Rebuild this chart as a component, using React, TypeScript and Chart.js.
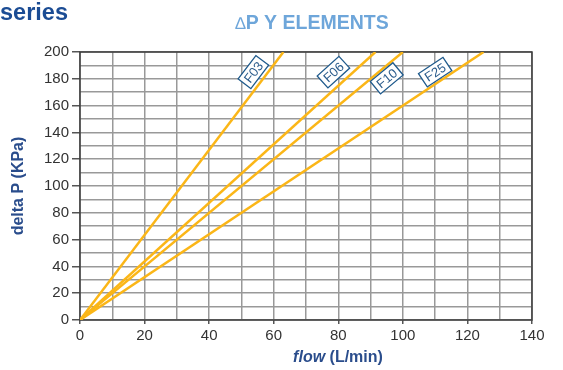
import { useEffect, useRef } from 'react';
import { Chart, registerables } from 'chart.js';

Chart.register(...registerables);

// ---- data ----
const seriesNames = ['F03', 'F06', 'F10', 'F25'];
const flowF03 = [0, 63];
const dpF03 = [0, 200];
const flowF06 = [0, 91.5];
const dpF06 = [0, 200];
const flowF10 = [0, 100];
const dpF10 = [0, 200];
const flowF25 = [0, 125];
const dpF25 = [0, 200];
// label anchors (data units)
const labelFlow = [53.7, 78.5, 95, 110];
const labelDp = [185, 185, 180.4, 185];

const xTickLabels = ['0', '20', '40', '60', '80', '100', '120', '140'];
const yTickLabels = ['0', '20', '40', '60', '80', '100', '120', '140', '160', '180', '200'];

const FONT = '"Liberation Sans", Arial, Helvetica, sans-serif';
const LINE_COLOR = '#fbb617';

const toPts = (xs: number[], ys: number[]) => xs.map((x, i) => ({ x, y: ys[i] }));

const overlayPlugin = {
  id: 'overlay',
  beforeDatasetsDraw(chart: any) {
    const { ctx, chartArea } = chart;
    ctx.save();
    ctx.strokeStyle = '#3c3c3c';
    ctx.lineWidth = 1.5;
    ctx.strokeRect(chartArea.left, chartArea.top, chartArea.right - chartArea.left, chartArea.bottom - chartArea.top);
    ctx.restore();
  },
  afterDatasetsDraw(chart: any) {
    const { ctx } = chart;
    const xs = chart.scales.x;
    const ys = chart.scales.y;
    ctx.save();
    chart.data.datasets.forEach((ds: any, i: number) => {
      const p0 = ds.data[0];
      const p1 = ds.data[ds.data.length - 1];
      const dx = xs.getPixelForValue(p1.x) - xs.getPixelForValue(p0.x);
      const dy = ys.getPixelForValue(p1.y) - ys.getPixelForValue(p0.y);
      const ang = Math.atan2(dy, dx);
      const cx = xs.getPixelForValue(labelFlow[i]);
      const cy = ys.getPixelForValue(labelDp[i]);
      ctx.save();
      ctx.translate(cx, cy);
      ctx.rotate(ang);
      ctx.font = `13px ${FONT}`;
      const w = ctx.measureText(seriesNames[i]).width + 7;
      const h = 16;
      ctx.fillStyle = '#ffffff';
      ctx.fillRect(-w / 2, -h / 2, w, h);
      ctx.strokeStyle = '#1f5a8c';
      ctx.lineWidth = 1.3;
      ctx.strokeRect(-w / 2, -h / 2, w, h);
      ctx.fillStyle = '#2b5c8c';
      ctx.textAlign = 'center';
      ctx.textBaseline = 'middle';
      ctx.fillText(seriesNames[i], 0, 1);
      ctx.restore();
    });
    ctx.restore();
  },
  afterDraw(chart: any) {
    const { ctx, chartArea } = chart;
    ctx.save();
    // top-left title
    ctx.fillStyle = '#1b4c94';
    ctx.font = `bold 23.5px ${FONT}`;
    ctx.textAlign = 'left';
    ctx.textBaseline = 'alphabetic';
    ctx.fillText('series', 0, 20);
    // chart title
    ctx.fillStyle = '#6ea6da';
    const delta = '\u2206';
    const rest = 'P Y ELEMENTS';
    ctx.font = `17px ${FONT}`;
    const wd = ctx.measureText(delta).width;
    ctx.font = `bold 19.5px ${FONT}`;
    const wr = ctx.measureText(rest).width;
    const cxT = 312;
    const sx = cxT - (wd + wr) / 2;
    ctx.font = `17px ${FONT}`;
    ctx.fillText(delta, sx, 29);
    ctx.font = `bold 19.5px ${FONT}`;
    ctx.fillText(rest, sx + wd, 29);
    // y title
    ctx.fillStyle = '#2a4d8c';
    ctx.font = `bold 16px ${FONT}`;
    ctx.save();
    ctx.translate(23, (chartArea.top + chartArea.bottom) / 2);
    ctx.rotate(-Math.PI / 2);
    ctx.textAlign = 'center';
    ctx.fillText('delta P (KPa)', 0, 0);
    ctx.restore();
    // x title
    const a = 'flow';
    const b = ' (L/min)';
    ctx.font = `italic bold 16px ${FONT}`;
    const wa = ctx.measureText(a).width;
    ctx.font = `bold 16px ${FONT}`;
    const wb = ctx.measureText(b).width;
    const x0 = 338 - (wa + wb) / 2;
    ctx.textAlign = 'left';
    ctx.font = `italic bold 16px ${FONT}`;
    ctx.fillText(a, x0, 362);
    ctx.font = `bold 16px ${FONT}`;
    ctx.fillText(b, x0 + wa, 362);
    ctx.restore();
  },
};

export default function App() {
  const ref = useRef<HTMLCanvasElement | null>(null);
  useEffect(() => {
    if (!ref.current) return;
    const mk = (label: string, xs: number[], ys: number[]) => ({
      label,
      data: toPts(xs, ys),
      showLine: true,
      borderColor: LINE_COLOR,
      backgroundColor: LINE_COLOR,
      borderWidth: 2.5,
      pointRadius: 0,
      fill: false,
    });
    const chart = new Chart(ref.current, {
      type: 'scatter',
      data: {
        datasets: [
          mk(seriesNames[0], flowF03, dpF03),
          mk(seriesNames[1], flowF06, dpF06),
          mk(seriesNames[2], flowF10, dpF10),
          mk(seriesNames[3], flowF25, dpF25),
        ],
      },
      options: {
        responsive: false,
        animation: false,
        layout: { padding: { top: 52, right: 31, left: 0, bottom: 0 } },
        plugins: { legend: { display: false }, tooltip: { enabled: false }, title: { display: false } },
        scales: {
          x: {
            type: 'linear',
            min: 0,
            max: 140,
            afterFit: (s: any) => { s.height = 50; },
            ticks: {
              stepSize: 10,
              autoSkip: false,
              maxRotation: 0,
              padding: 3,
              color: '#333333',
              font: { family: FONT, size: 15 },
              callback: (v: any) => (v % 20 === 0 ? xTickLabels[v / 20] : ''),
            },
            grid: {
              color: '#999999',
              lineWidth: 1.5,
              tickLength: 4,
              tickColor: (c: any) => (c.tick && c.tick.value % 20 === 0 ? '#555555' : 'rgba(0,0,0,0)'),
            },
            border: { display: false },
          },
          y: {
            type: 'linear',
            min: 0,
            max: 200,
            afterFit: (s: any) => { s.width = 80; },
            ticks: {
              stepSize: 10,
              autoSkip: false,
              padding: 3,
              color: '#333333',
              font: { family: FONT, size: 15 },
              callback: (v: any) => (v % 20 === 0 ? yTickLabels[v / 20] : ''),
            },
            grid: {
              color: '#999999',
              lineWidth: 1.5,
              tickLength: 8,
              tickColor: (c: any) => (c.tick && c.tick.value % 20 === 0 ? '#555555' : 'rgba(0,0,0,0)'),
            },
            border: { display: false },
          },
        },
      },
      plugins: [overlayPlugin],
    });
    return () => chart.destroy();
  }, []);
  return (
    <div style={{ position: 'absolute', left: 0, top: 0, width: 563, height: 370, background: '#fff' }}>
      <canvas ref={ref} width={563} height={370} style={{ display: 'block' }} />
    </div>
  );
}
